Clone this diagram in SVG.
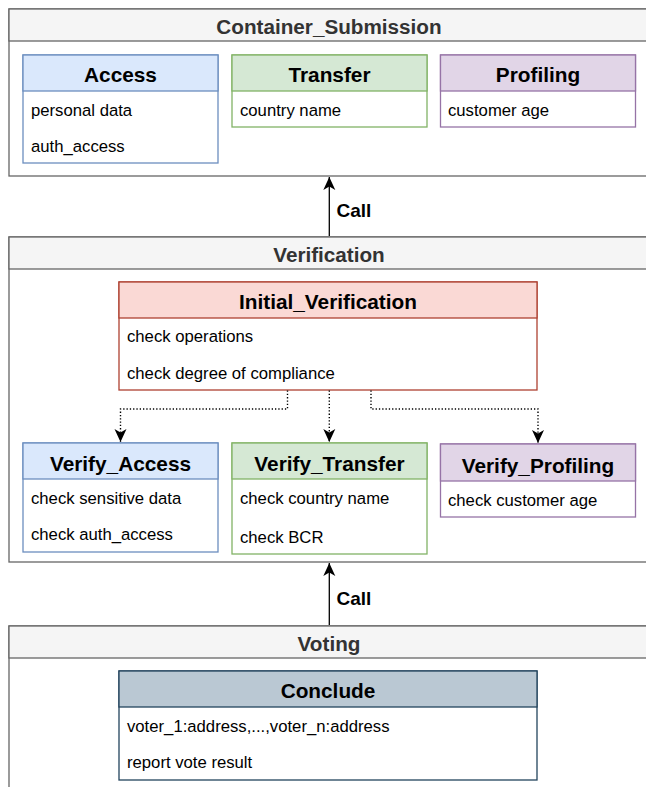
<svg xmlns="http://www.w3.org/2000/svg" width="646" height="787" viewBox="0 0 646 787">
  <style>
    text { font-family: "Liberation Sans", Arial, Helvetica, sans-serif; }
    .pool-body { fill: #ffffff; stroke: #666666; stroke-width: 1.3; }
    .pool-head { fill: #f5f5f5; stroke: #666666; stroke-width: 1.3; }
    .pool-title { font-size: 20.7px; font-weight: bold; fill: #333333; text-anchor: middle; dominant-baseline: central; }
    .cls-title { font-size: 20.8px; font-weight: bold; fill: #000000; text-anchor: middle; dominant-baseline: central; }
    .row { font-size: 16.7px; fill: #000000; dominant-baseline: central; }
    .body { fill: #ffffff; stroke-width: 1.3; }
    .blue { fill: #dae8fc; stroke: #6c8ebf; }
    .green { fill: #d5e8d4; stroke: #82b366; }
    .purple { fill: #e1d5e7; stroke: #9673a6; }
    .red { fill: #fad9d5; stroke: #ae4132; }
    .slate { fill: #bac8d3; stroke: #23445d; }
    .s-blue { stroke: #6c8ebf; }
    .s-green { stroke: #82b366; }
    .s-purple { stroke: #9673a6; }
    .s-red { stroke: #ae4132; }
    .s-slate { stroke: #23445d; }
    .hd { stroke-width: 1.3; }
    .call { fill: none; stroke: #000000; stroke-width: 1.3; }
    .dotted { fill: none; stroke: #000000; stroke-width: 1.4; stroke-dasharray: 1.3 2; }
    .edge-label { font-size: 19px; font-weight: bold; fill: #000000; }
  </style>
  <defs>
    <marker id="arrow" markerWidth="14" markerHeight="14" viewBox="0 0 14 14" refX="13" refY="7" orient="auto" markerUnits="userSpaceOnUse">
      <path d="M0,1 L13,7 L0,13 L3.5,7 Z" fill="#000000"/>
    </marker>
  </defs>

  <!-- Container_Submission pool -->
  <g id="container-submission">
    <rect class="pool-body" x="9" y="9" width="641" height="167"/>
    <rect class="pool-head" x="9" y="9" width="641" height="32"/>
    <text class="pool-title" x="329" y="26">Container_Submission</text>
  </g>
  <g id="access">
    <rect class="body s-blue" x="23" y="55" width="195" height="108"/>
    <rect class="blue hd" x="23" y="55" width="195" height="36"/>
    <text class="cls-title" x="120.5" y="74">Access</text>
    <text class="row" x="31" y="110">personal data</text>
    <text class="row" x="31" y="146">auth_access</text>
  </g>
  <g id="transfer">
    <rect class="body s-green" x="232" y="55" width="195" height="72"/>
    <rect class="green hd" x="232" y="55" width="195" height="36"/>
    <text class="cls-title" x="329.5" y="74">Transfer</text>
    <text class="row" x="240" y="110">country name</text>
  </g>
  <g id="profiling">
    <rect class="body s-purple" x="440.5" y="55" width="195" height="72"/>
    <rect class="purple hd" x="440.5" y="55" width="195" height="36"/>
    <text class="cls-title" x="538" y="74">Profiling</text>
    <text class="row" x="448" y="110">customer age</text>
  </g>

  <!-- Verification pool -->
  <g id="verification">
    <rect class="pool-body" x="9" y="237" width="641" height="325"/>
    <rect class="pool-head" x="9" y="237" width="641" height="32"/>
    <text class="pool-title" x="329" y="254">Verification</text>
  </g>
  <g id="initial-verification">
    <rect class="body s-red" x="119" y="282" width="418" height="108"/>
    <rect class="red hd" x="119" y="282" width="418" height="36"/>
    <text class="cls-title" x="328" y="301">Initial_Verification</text>
    <text class="row" x="127" y="336">check operations</text>
    <text class="row" x="127" y="373">check degree of compliance</text>
  </g>
  <g id="verify-access">
    <rect class="body s-blue" x="23" y="443" width="195" height="109"/>
    <rect class="blue hd" x="23" y="443" width="195" height="36"/>
    <text class="cls-title" x="120.5" y="463">Verify_Access</text>
    <text class="row" x="31" y="498">check sensitive data</text>
    <text class="row" x="31" y="534">check auth_access</text>
  </g>
  <g id="verify-transfer">
    <rect class="body s-green" x="232" y="443" width="195" height="111"/>
    <rect class="green hd" x="232" y="443" width="195" height="36"/>
    <text class="cls-title" x="329.5" y="463">Verify_Transfer</text>
    <text class="row" x="240" y="498">check country name</text>
    <text class="row" x="240" y="537">check BCR</text>
  </g>
  <g id="verify-profiling">
    <rect class="body s-purple" x="440.5" y="444" width="195" height="73"/>
    <rect class="purple hd" x="440.5" y="444" width="195" height="37"/>
    <text class="cls-title" x="538" y="465">Verify_Profiling</text>
    <text class="row" x="448" y="500">check customer age</text>
  </g>

  <!-- Voting pool (continues past the lower edge) -->
  <g id="voting">
    <rect class="pool-body" x="9" y="626" width="641" height="190"/>
    <rect class="pool-head" x="9" y="626" width="641" height="32"/>
    <text class="pool-title" x="329" y="643">Voting</text>
  </g>
  <g id="conclude">
    <rect class="body s-slate" x="119" y="671" width="418" height="109"/>
    <rect class="slate hd" x="119" y="671" width="418" height="36"/>
    <text class="cls-title" x="328" y="690">Conclude</text>
    <text class="row" x="127" y="726">voter_1:address,...,voter_n:address</text>
    <text class="row" x="127" y="762">report vote result</text>
  </g>

  <!-- Connectors -->
  <g id="connectors">
    <path class="call" d="M329.3,236 L329.3,177" marker-end="url(#arrow)"/>
    <text class="edge-label" x="336.5" y="216.5">Call</text>
    <path class="call" d="M329.3,625 L329.3,563" marker-end="url(#arrow)"/>
    <text class="edge-label" x="336.5" y="604.5">Call</text>
    <path class="dotted" d="M287.5,390.5 L287.5,409 L120.5,409 L120.5,442" marker-end="url(#arrow)"/>
    <path class="dotted" d="M329.3,390.5 L329.3,442" marker-end="url(#arrow)"/>
    <path class="dotted" d="M371,390.5 L371,409 L538,409 L538,443" marker-end="url(#arrow)"/>
  </g>
</svg>
